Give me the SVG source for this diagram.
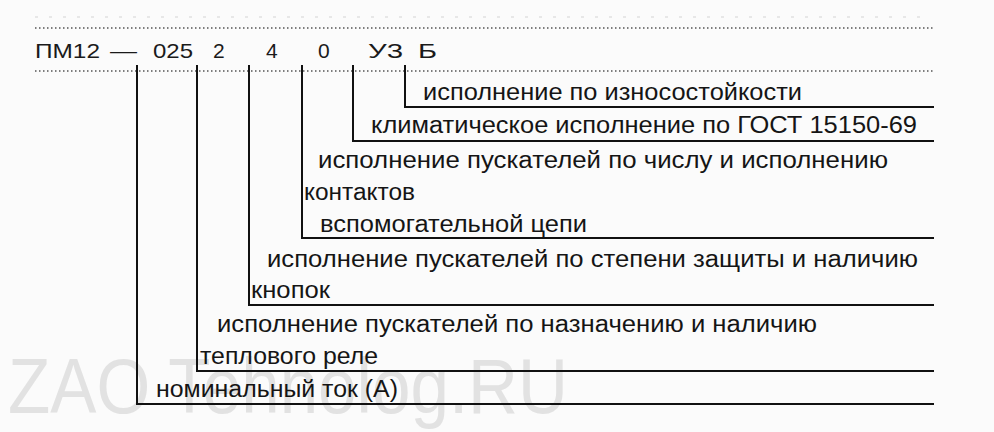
<svg xmlns="http://www.w3.org/2000/svg" width="994" height="432" viewBox="0 0 994 432">
<style>
.bg{fill:#fbfbfb}
.wm{font-family:"Liberation Sans",Arial,sans-serif;font-size:78px;fill:#e2e2e2}
.code{font-family:"Liberation Sans",Arial,sans-serif;font-size:21px;fill:#1a1a1a}
.lbl{font-family:"Liberation Sans",Arial,sans-serif;font-size:23px;fill:#151515}
.dot{stroke:#555;stroke-width:1.4;stroke-dasharray:1.5 2.5;fill:none}
.faint{stroke:#d4d4d4;stroke-width:1.2;stroke-dasharray:3 11;fill:none}
.con{stroke:#111;stroke-width:2;fill:none}
</style>
<rect class="bg" x="0" y="0" width="994" height="432"/>
<text class="wm" x="8" y="413" textLength="560" lengthAdjust="spacingAndGlyphs">ZAO Tehnolog.RU</text>
<g id="header">
<line class="faint" x1="35" y1="17" x2="930" y2="17"/>
<line class="dot" x1="35" y1="28" x2="933" y2="28"/>
<line class="dot" x1="35" y1="71" x2="933" y2="71"/>
<text class="code" x="35" y="58" textLength="65" lengthAdjust="spacingAndGlyphs">ПМ12</text>
<text class="code" x="110" y="58" textLength="27" lengthAdjust="spacingAndGlyphs">—</text>
<text class="code" x="153" y="58" textLength="40" lengthAdjust="spacingAndGlyphs">025</text>
<text class="code" x="213" y="58">2</text>
<text class="code" x="266" y="58">4</text>
<text class="code" x="318" y="58">0</text>
<text class="code" x="368" y="58" textLength="35" lengthAdjust="spacingAndGlyphs">У3</text>
<text class="code" x="418" y="58" textLength="19" lengthAdjust="spacingAndGlyphs">Б</text>
</g>
<g id="connectors">
<polyline class="con" points="405,65 405,107 934,107"/>
<polyline class="con" points="353,65 353,141 934,141"/>
<polyline class="con" points="302,65 302,238 934,238"/>
<polyline class="con" points="249,65 249,305 934,305"/>
<polyline class="con" points="197,65 197,371 934,371"/>
<polyline class="con" points="137,65 137,404 934,404"/>
</g>
<g id="wear">
<text class="lbl" x="423" y="100" textLength="379" lengthAdjust="spacingAndGlyphs">исполнение по износостойкости</text>
</g>
<g id="climate">
<text class="lbl" x="371" y="133" textLength="546" lengthAdjust="spacingAndGlyphs">климатическое исполнение по ГОСТ 15150-69</text>
</g>
<g id="contacts">
<text class="lbl" x="318" y="168" textLength="570" lengthAdjust="spacingAndGlyphs">исполнение пускателей по числу и исполнению</text>
<text class="lbl" x="304" y="200" textLength="111" lengthAdjust="spacingAndGlyphs">контактов</text>
<text class="lbl" x="320" y="232" textLength="267" lengthAdjust="spacingAndGlyphs">вспомогательной цепи</text>
</g>
<g id="protection">
<text class="lbl" x="267" y="267" textLength="651" lengthAdjust="spacingAndGlyphs">исполнение пускателей по степени защиты и наличию</text>
<text class="lbl" x="251" y="298" textLength="79" lengthAdjust="spacingAndGlyphs">кнопок</text>
</g>
<g id="purpose">
<text class="lbl" x="217" y="332" textLength="600" lengthAdjust="spacingAndGlyphs">исполнение пускателей по назначению и наличию</text>
<text class="lbl" x="200" y="364" textLength="178" lengthAdjust="spacingAndGlyphs">теплового реле</text>
</g>
<g id="current">
<text class="lbl" x="156" y="397" textLength="242" lengthAdjust="spacingAndGlyphs">номинальный ток (А)</text>
</g>
</svg>
